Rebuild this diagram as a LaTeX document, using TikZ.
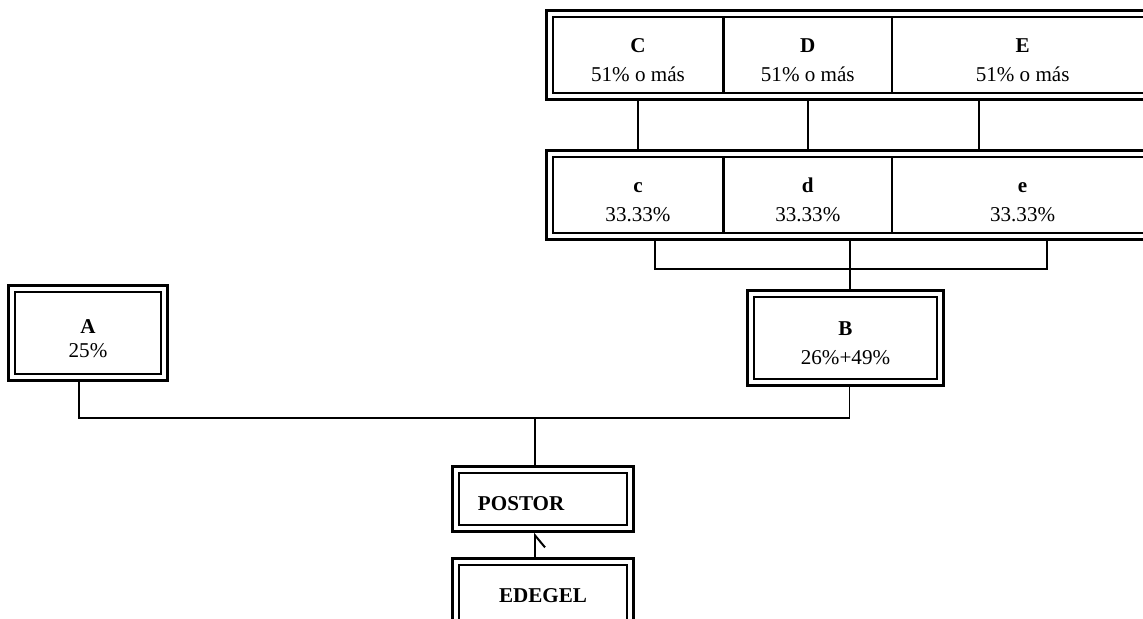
\documentclass[tikz,border=0pt]{standalone}
\usepackage{fontspec}
\setmainfont{Liberation Serif}
\usetikzlibrary{arrows.meta, calc, fit, positioning}
% struts that place the two text lines of a cell
\newcommand{\cellhi}[1][23pt]{\rule{0pt}{#1}}
\newcommand{\celldp}{\rule[-6pt]{0pt}{6pt}}

\begin{document}
\begin{tikzpicture}[x=0.025cm, y=-0.025cm,
every node/.style = {align=center, inner sep=0pt,
                     font=\fontsize{15}{21}\selectfont},
cell/.style  = {draw, line width=0.9pt, minimum height=1.9cm},
frame/.style = {draw, line width=2pt, inner sep=0.14cm},
link/.style  = {draw, line width=1.4pt},
                    ]
\useasboundingbox (0,0) rectangle (1143,618);
%-------
% upper row
\node (C)   [cell, minimum width=4.25cm] at (638,55)   {\cellhi\textbf{C}\\51\% o más\celldp};
\node (D)   [cell, minimum width=4.175cm, right=0pt of C] {\cellhi\textbf{D}\\51\% o más\celldp};
\node (E)   [cell, minimum width=6.5cm, right=0pt of D]   {\cellhi\textbf{E}\\51\% o más\celldp};
\node (top) [frame, fit=(C)(D)(E)] {};
% lower row
\node (c)   [cell, minimum width=4.25cm] at (638,195)  {\cellhi\textbf{c}\\33.33\%\celldp};
\node (d)   [cell, minimum width=4.175cm, right=0pt of c] {\cellhi\textbf{d}\\33.33\%\celldp};
\node (e)   [cell, minimum width=6.5cm, right=0pt of d]   {\cellhi\textbf{e}\\33.33\%\celldp};
\node (low) [frame, fit=(c)(d)(e)] {};
%
\node (B)    [cell, minimum width=4.575cm, minimum height=2.05cm] at (845.5,338)
                                    {\cellhi\textbf{B}\\26\%+49\%\celldp};
\node (Bbox) [frame, fit=(B)] {};
\node (A)    [cell, minimum width=3.65cm, minimum height=2.05cm,
              font=\fontsize{15}{17.5}\selectfont] at (88,333)
                                    {\cellhi[23.5pt]\textbf{A}\\25\%\celldp};
\node (Abox) [frame, fit=(A)] {};
%
\node (postor) [cell, minimum width=4.2cm, minimum height=1.3cm,
                text height=21pt, text depth=5pt,
                text width=3.25cm, inner xsep=0.475cm, align=left] at (543,499)
                                    {\textbf{POSTOR}};
\node (postorbox) [frame, fit=(postor)] {};
\node (edegel) [cell, minimum width=4.2cm, minimum height=1.75cm,
                text height=13pt, text depth=10pt] at (543,600)
                                    {\textbf{EDEGEL}};
\node (edegelbox) [frame, fit=(edegel)] {};
%
\coordinate (Ebar) at ([xshift=2.175cm]E.south west);
\coordinate (cB)   at ([xshift=0.425cm]c.south);
\coordinate (dB)   at ([xshift=1.06cm]d.south);
\coordinate (eB)   at ([xshift=0.6cm]e.south);
\coordinate (busB) at ($(low.south)+(0,28)$);
\coordinate (join) at ([xshift=-0.2cm, yshift=1.175cm]postorbox.north);
% edges
\path[link]
        (C.south |- top.south)  edge (C.south |- low.north)
        (D.south |- top.south)  edge (D.south |- low.north)
        (Ebar |- top.south)     edge (Ebar |- low.north);
\draw[link] (cB |- low.south) |- (busB -| eB) -- (eB |- low.south);
\draw[link] (dB |- low.south) -- (dB |- Bbox.north);
%---
\draw[link] ([xshift=-0.225cm]Abox.south) |- (join) -| ([xshift=0.1cm]Bbox.south);
\draw[link] (join) -- (join |- postorbox.north);
\draw[link, -{Straight Barb[right, length=3mm, width=5mm]}]
        ([xshift=-0.2cm]edegelbox.north) -- ([xshift=-0.2cm]postorbox.south);
\end{tikzpicture}
\end{document}
